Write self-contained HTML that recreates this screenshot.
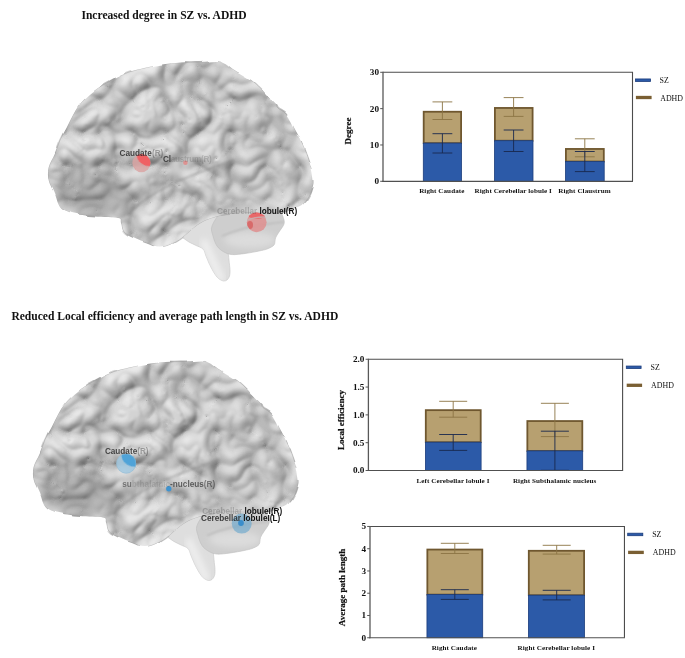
<!DOCTYPE html>
<html><head><meta charset="utf-8"><title>Figure</title>
<style>
html,body{margin:0;padding:0;background:#fff}
svg{display:block}
text{font-family:"Liberation Serif",serif;fill:#111}
.tt{font-weight:bold;font-size:11.55px}
.tk{font-weight:bold}
.yl{font-weight:bold;font-size:9px;stroke:#111;stroke-width:0.2px}
.ct{font-weight:bold;font-size:7.1px;letter-spacing:0.07px}
.lg{font-size:7.9px}
.bl{font-family:"Liberation Sans",sans-serif;font-weight:bold;font-size:8.2px;fill:#222}
</style></head><body>
<svg width="685" height="658" viewBox="0 0 685 658">
<defs>
<filter id="tex" x="0" y="0" width="100%" height="100%" color-interpolation-filters="sRGB"><feTurbulence type="turbulence" baseFrequency="0.03" numOctaves="2" seed="4" result="nl1"/>
<feColorMatrix in="nl1" type="matrix" values="1 0 0 0 0  1 0 0 0 0  1 0 0 0 0  0 0 0 0 1" result="gl1"/>
<feComponentTransfer in="gl1" result="l1"><feFuncR type="table" tableValues="0.80 0.89 0.94 0.97 0.98 0.99 1 1"/><feFuncG type="table" tableValues="0.80 0.89 0.94 0.97 0.98 0.99 1 1"/><feFuncB type="table" tableValues="0.80 0.89 0.94 0.97 0.98 0.99 1 1"/></feComponentTransfer><feTurbulence type="turbulence" baseFrequency="0.03" numOctaves="2" seed="4" result="tn"/>
<feColorMatrix in="tn" type="matrix" values="0 0 0 0 0  0 0 0 0 0  0 0 0 0 0  1.6 0 0 0 0" result="ta"/>
<feGaussianBlur in="ta" stdDeviation="0.8" result="tb"/>
<feDiffuseLighting in="tb" surfaceScale="2.8" diffuseConstant="1" lighting-color="#eeeeee" result="tl"><feDistantLight azimuth="240" elevation="64"/></feDiffuseLighting><feBlend in="l1" in2="tl" mode="multiply" result="m"/><feGaussianBlur in="m" stdDeviation="0.4"/></filter>
<filter id="b3" x="-20%" y="-20%" width="140%" height="140%"><feGaussianBlur stdDeviation="3"/></filter>
<filter id="b8" x="-50%" y="-50%" width="200%" height="200%"><feGaussianBlur stdDeviation="8"/></filter>
<filter id="b05" x="-20%" y="-20%" width="140%" height="140%"><feGaussianBlur stdDeviation="0.6"/></filter>
<filter id="b1" x="-20%" y="-20%" width="140%" height="140%"><feGaussianBlur stdDeviation="1.2"/></filter>
<mask id="mcer" maskUnits="userSpaceOnUse" x="30" y="40" width="310" height="260"><path d="M48.6 180.0C47.8 175.9 47.6 171.7 48.6 167.4C49.6 163.1 52.9 158.6 54.8 154.0C56.7 149.4 58.0 144.5 60.0 140.0C62.0 135.5 64.8 131.2 67.0 127.0C69.2 122.8 70.9 118.8 73.0 115.0C75.1 111.2 76.9 107.8 79.6 104.5C82.3 101.2 85.7 97.9 89.0 95.0C92.3 92.1 95.3 89.7 99.5 87.0C103.7 84.3 109.1 81.5 114.0 79.0C118.9 76.5 124.0 73.8 129.0 72.0C134.0 70.2 139.0 69.2 144.0 68.0C149.0 66.8 153.0 65.9 159.0 65.0C165.0 64.1 173.2 63.0 180.0 62.5C186.8 62.0 193.8 62.2 200.0 62.0C206.2 61.8 212.7 60.7 217.0 61.0C221.3 61.3 223.1 62.5 226.0 64.0C228.9 65.5 229.8 67.0 234.5 70.0C239.2 73.0 248.2 77.5 254.0 82.0C259.8 86.5 265.3 93.3 269.0 97.0C272.7 100.7 274.5 102.2 276.0 104.0C277.5 105.8 276.2 106.2 278.0 108.0C279.8 109.8 283.5 110.5 286.6 114.5C289.7 118.5 293.4 126.2 296.5 132.0C299.6 137.8 302.6 143.2 305.0 149.0C307.4 154.8 309.6 161.3 311.0 166.5C312.4 171.7 313.1 176.6 313.4 180.0C313.7 183.4 313.4 184.2 312.7 187.0C312.0 189.8 310.9 193.8 309.0 197.0C307.1 200.2 304.4 203.8 301.5 206.0C298.6 208.2 295.4 208.7 291.6 210.0C287.9 211.3 283.9 213.1 279.0 213.6C274.1 214.1 267.0 213.2 262.0 213.0C257.0 212.8 253.3 212.4 249.0 212.5C244.7 212.6 240.2 213.1 236.0 213.5C231.8 213.9 228.8 213.9 224.0 215.0C219.2 216.1 211.8 218.0 207.0 220.0C202.2 222.0 198.8 224.2 195.0 227.0C191.2 229.8 187.5 233.8 184.0 236.5C180.5 239.2 178.0 241.2 174.0 243.0C170.0 244.8 164.2 247.4 160.0 247.6C155.8 247.8 153.3 245.6 149.0 244.0C144.7 242.4 138.2 240.0 134.0 238.0C129.8 236.0 126.2 234.7 124.0 232.0C121.8 229.3 122.0 224.3 121.0 222.0C120.0 219.7 122.4 218.9 118.0 218.0C113.6 217.1 102.2 217.4 94.5 216.6C86.8 215.8 77.8 214.6 72.0 213.0C66.2 211.4 62.9 210.5 59.8 207.0C56.7 203.5 55.5 196.5 53.6 192.0C51.7 187.5 49.4 184.1 48.6 180.0Z" fill="#fff" filter="url(#b07)"/></mask>
<filter id="b07" x="-5%" y="-5%" width="110%" height="110%"><feTurbulence type="fractalNoise" baseFrequency="0.06" numOctaves="1" seed="5" result="dn"/><feDisplacementMap in="SourceGraphic" in2="dn" scale="5" xChannelSelector="R" yChannelSelector="G" result="dd"/><feGaussianBlur in="dd" stdDeviation="0.5"/></filter>
<clipPath id="ccbl"><path d="M212.0 226.0C213.5 222.0 217.3 215.3 222.0 212.0C226.7 208.7 233.3 207.3 240.0 206.0C246.7 204.7 255.7 203.5 262.0 204.0C268.3 204.5 274.5 206.8 278.0 209.0C281.5 211.2 282.0 214.5 283.0 217.0C284.0 219.5 284.7 221.5 284.0 224.0C283.3 226.5 280.4 229.7 279.0 232.0C277.6 234.3 276.3 235.8 275.5 238.0C274.7 240.2 275.4 243.2 274.0 245.0C272.6 246.8 269.5 248.0 267.0 249.0C264.5 250.0 262.7 250.2 259.0 251.0C255.3 251.8 249.5 252.9 245.0 253.5C240.5 254.1 235.5 254.8 232.0 254.6C228.5 254.3 226.5 253.4 224.0 252.0C221.5 250.6 218.8 248.7 217.0 246.0C215.2 243.3 213.8 239.3 213.0 236.0C212.2 232.7 210.5 230.0 212.0 226.0Z"/></clipPath>
<clipPath id="cstm"><path d="M176.0 230.0C177.0 226.0 185.5 218.7 192.0 216.0C198.5 213.3 209.0 212.0 215.0 214.0C221.0 216.0 225.8 222.3 228.0 228.0C230.2 233.7 227.8 242.7 228.0 248.0C228.2 253.3 228.7 256.3 229.0 260.0C229.3 263.7 229.9 267.3 230.0 270.0C230.1 272.7 230.0 274.3 229.5 276.0C229.0 277.7 228.0 279.2 227.0 280.0C226.0 280.8 224.7 281.1 223.5 281.0C222.3 280.9 221.1 280.2 220.0 279.5C218.9 278.8 218.2 278.4 217.0 277.0C215.8 275.6 214.2 273.1 213.0 271.0C211.8 268.9 210.8 267.0 209.6 264.5C208.4 262.0 207.1 258.6 206.0 256.0C204.9 253.4 204.8 250.8 203.0 249.0C201.2 247.2 197.8 246.5 195.0 245.0C192.2 243.5 189.2 242.5 186.0 240.0C182.8 237.5 175.0 234.0 176.0 230.0Z"/></clipPath>
<linearGradient id="gstm" x1="0" y1="0" x2="1" y2="0"><stop offset="0" stop-color="#d2d2d2"/><stop offset="0.45" stop-color="#ececec"/><stop offset="1" stop-color="#d0d0d0"/></linearGradient>
<radialGradient id="gred" cx="0.6" cy="0.3" r="0.75"><stop offset="0" stop-color="#f05a5e"/><stop offset="0.45" stop-color="#e77378"/><stop offset="1" stop-color="#d99a9c"/></radialGradient>
<radialGradient id="gblu" cx="0.6" cy="0.3" r="0.75"><stop offset="0" stop-color="#4a9ed6"/><stop offset="0.45" stop-color="#6aaed8"/><stop offset="1" stop-color="#9cc4dc"/></radialGradient>
<g id="brain">
<path d="M176.0 230.0C177.0 226.0 185.5 218.7 192.0 216.0C198.5 213.3 209.0 212.0 215.0 214.0C221.0 216.0 225.8 222.3 228.0 228.0C230.2 233.7 227.8 242.7 228.0 248.0C228.2 253.3 228.7 256.3 229.0 260.0C229.3 263.7 229.9 267.3 230.0 270.0C230.1 272.7 230.0 274.3 229.5 276.0C229.0 277.7 228.0 279.2 227.0 280.0C226.0 280.8 224.7 281.1 223.5 281.0C222.3 280.9 221.1 280.2 220.0 279.5C218.9 278.8 218.2 278.4 217.0 277.0C215.8 275.6 214.2 273.1 213.0 271.0C211.8 268.9 210.8 267.0 209.6 264.5C208.4 262.0 207.1 258.6 206.0 256.0C204.9 253.4 204.8 250.8 203.0 249.0C201.2 247.2 197.8 246.5 195.0 245.0C192.2 243.5 189.2 242.5 186.0 240.0C182.8 237.5 175.0 234.0 176.0 230.0Z" fill="#dedede" stroke="#c6c6c6" stroke-width="0.6"/>
<g clip-path="url(#cstm)"><path d="M203 240L222 281" stroke="#f0f0f0" stroke-width="7" filter="url(#b3)" fill="none"/></g>
<path d="M212.0 226.0C213.5 222.0 217.3 215.3 222.0 212.0C226.7 208.7 233.3 207.3 240.0 206.0C246.7 204.7 255.7 203.5 262.0 204.0C268.3 204.5 274.5 206.8 278.0 209.0C281.5 211.2 282.0 214.5 283.0 217.0C284.0 219.5 284.7 221.5 284.0 224.0C283.3 226.5 280.4 229.7 279.0 232.0C277.6 234.3 276.3 235.8 275.5 238.0C274.7 240.2 275.4 243.2 274.0 245.0C272.6 246.8 269.5 248.0 267.0 249.0C264.5 250.0 262.7 250.2 259.0 251.0C255.3 251.8 249.5 252.9 245.0 253.5C240.5 254.1 235.5 254.8 232.0 254.6C228.5 254.3 226.5 253.4 224.0 252.0C221.5 250.6 218.8 248.7 217.0 246.0C215.2 243.3 213.8 239.3 213.0 236.0C212.2 232.7 210.5 230.0 212.0 226.0Z" fill="#cecece" stroke="#bdbdbd" stroke-width="0.6"/>
<g clip-path="url(#ccbl)"><ellipse cx="250" cy="240" rx="26" ry="8" fill="#dcdcdc" filter="url(#b3)"/><path d="M222 236C240 228 262 224 284 222" stroke="#b4b4b4" stroke-width="1.2" fill="none" filter="url(#b1)"/></g>
<g mask="url(#mcer)">
<rect x="40" y="50" width="290" height="210" filter="url(#tex)"/>
<ellipse cx="90" cy="196" rx="46" ry="22" fill="#707070" opacity="0.36" filter="url(#b8)"/>
<ellipse cx="266" cy="191" rx="44" ry="11" fill="#fff" opacity="0.3" filter="url(#b8)" transform="rotate(-8 266 191)"/>
<ellipse cx="205" cy="228" rx="22" ry="10" fill="#fff" opacity="0.3" filter="url(#b8)" transform="rotate(-30 205 228)"/>
<ellipse cx="265" cy="175" rx="40" ry="30" fill="#808080" opacity="0.10" filter="url(#b8)"/>
<path d="M128 215C150 190 190 175 235 160" stroke="#777" stroke-width="2.2" fill="none" opacity="0.35" filter="url(#b1)"/>
<path d="M48.6 180.0C47.8 175.9 47.6 171.7 48.6 167.4C49.6 163.1 52.9 158.6 54.8 154.0C56.7 149.4 58.0 144.5 60.0 140.0C62.0 135.5 64.8 131.2 67.0 127.0C69.2 122.8 70.9 118.8 73.0 115.0C75.1 111.2 76.9 107.8 79.6 104.5C82.3 101.2 85.7 97.9 89.0 95.0C92.3 92.1 95.3 89.7 99.5 87.0C103.7 84.3 109.1 81.5 114.0 79.0C118.9 76.5 124.0 73.8 129.0 72.0C134.0 70.2 139.0 69.2 144.0 68.0C149.0 66.8 153.0 65.9 159.0 65.0C165.0 64.1 173.2 63.0 180.0 62.5C186.8 62.0 193.8 62.2 200.0 62.0C206.2 61.8 212.7 60.7 217.0 61.0C221.3 61.3 223.1 62.5 226.0 64.0C228.9 65.5 229.8 67.0 234.5 70.0C239.2 73.0 248.2 77.5 254.0 82.0C259.8 86.5 265.3 93.3 269.0 97.0C272.7 100.7 274.5 102.2 276.0 104.0C277.5 105.8 276.2 106.2 278.0 108.0C279.8 109.8 283.5 110.5 286.6 114.5C289.7 118.5 293.4 126.2 296.5 132.0C299.6 137.8 302.6 143.2 305.0 149.0C307.4 154.8 309.6 161.3 311.0 166.5C312.4 171.7 313.1 176.6 313.4 180.0C313.7 183.4 313.4 184.2 312.7 187.0C312.0 189.8 310.9 193.8 309.0 197.0C307.1 200.2 304.4 203.8 301.5 206.0C298.6 208.2 295.4 208.7 291.6 210.0C287.9 211.3 283.9 213.1 279.0 213.6C274.1 214.1 267.0 213.2 262.0 213.0C257.0 212.8 253.3 212.4 249.0 212.5C244.7 212.6 240.2 213.1 236.0 213.5C231.8 213.9 228.8 213.9 224.0 215.0C219.2 216.1 211.8 218.0 207.0 220.0C202.2 222.0 198.8 224.2 195.0 227.0C191.2 229.8 187.5 233.8 184.0 236.5C180.5 239.2 178.0 241.2 174.0 243.0C170.0 244.8 164.2 247.4 160.0 247.6C155.8 247.8 153.3 245.6 149.0 244.0C144.7 242.4 138.2 240.0 134.0 238.0C129.8 236.0 126.2 234.7 124.0 232.0C121.8 229.3 122.0 224.3 121.0 222.0C120.0 219.7 122.4 218.9 118.0 218.0C113.6 217.1 102.2 217.4 94.5 216.6C86.8 215.8 77.8 214.6 72.0 213.0C66.2 211.4 62.9 210.5 59.8 207.0C56.7 203.5 55.5 196.5 53.6 192.0C51.7 187.5 49.4 184.1 48.6 180.0Z" fill="none" stroke="#fff" stroke-width="9" opacity="0.24" filter="url(#b3)"/>
<path d="M48.6 180.0C47.8 175.9 47.6 171.7 48.6 167.4C49.6 163.1 52.9 158.6 54.8 154.0C56.7 149.4 58.0 144.5 60.0 140.0C62.0 135.5 64.8 131.2 67.0 127.0C69.2 122.8 70.9 118.8 73.0 115.0C75.1 111.2 76.9 107.8 79.6 104.5C82.3 101.2 85.7 97.9 89.0 95.0C92.3 92.1 95.3 89.7 99.5 87.0C103.7 84.3 109.1 81.5 114.0 79.0C118.9 76.5 124.0 73.8 129.0 72.0C134.0 70.2 139.0 69.2 144.0 68.0C149.0 66.8 153.0 65.9 159.0 65.0C165.0 64.1 173.2 63.0 180.0 62.5C186.8 62.0 193.8 62.2 200.0 62.0C206.2 61.8 212.7 60.7 217.0 61.0C221.3 61.3 223.1 62.5 226.0 64.0C228.9 65.5 229.8 67.0 234.5 70.0C239.2 73.0 248.2 77.5 254.0 82.0C259.8 86.5 265.3 93.3 269.0 97.0C272.7 100.7 274.5 102.2 276.0 104.0C277.5 105.8 276.2 106.2 278.0 108.0C279.8 109.8 283.5 110.5 286.6 114.5C289.7 118.5 293.4 126.2 296.5 132.0C299.6 137.8 302.6 143.2 305.0 149.0C307.4 154.8 309.6 161.3 311.0 166.5C312.4 171.7 313.1 176.6 313.4 180.0C313.7 183.4 313.4 184.2 312.7 187.0C312.0 189.8 310.9 193.8 309.0 197.0C307.1 200.2 304.4 203.8 301.5 206.0C298.6 208.2 295.4 208.7 291.6 210.0C287.9 211.3 283.9 213.1 279.0 213.6C274.1 214.1 267.0 213.2 262.0 213.0C257.0 212.8 253.3 212.4 249.0 212.5C244.7 212.6 240.2 213.1 236.0 213.5C231.8 213.9 228.8 213.9 224.0 215.0C219.2 216.1 211.8 218.0 207.0 220.0C202.2 222.0 198.8 224.2 195.0 227.0C191.2 229.8 187.5 233.8 184.0 236.5C180.5 239.2 178.0 241.2 174.0 243.0C170.0 244.8 164.2 247.4 160.0 247.6C155.8 247.8 153.3 245.6 149.0 244.0C144.7 242.4 138.2 240.0 134.0 238.0C129.8 236.0 126.2 234.7 124.0 232.0C121.8 229.3 122.0 224.3 121.0 222.0C120.0 219.7 122.4 218.9 118.0 218.0C113.6 217.1 102.2 217.4 94.5 216.6C86.8 215.8 77.8 214.6 72.0 213.0C66.2 211.4 62.9 210.5 59.8 207.0C56.7 203.5 55.5 196.5 53.6 192.0C51.7 187.5 49.4 184.1 48.6 180.0Z" fill="none" stroke="#999" stroke-width="1" opacity="0.5"/>
</g>
</g>
</defs>
<rect width="685" height="658" fill="#fff"/>
<text x="164" y="19" text-anchor="middle" class="tt">Increased degree in SZ vs. ADHD</text>
<text x="174.8" y="320.4" text-anchor="middle" class="tt">Reduced Local efficiency and average path length in SZ vs. ADHD</text>
<use href="#brain"/>
<g id="nodes1">
<clipPath id="k1"><circle cx="141.4" cy="163.1" r="9.1"/></clipPath>
<clipPath id="k2"><circle cx="256.7" cy="222.3" r="9.9"/></clipPath>
<circle cx="141.4" cy="163.1" r="9.1" fill="#dba3a2" opacity="0.82"/>
<g clip-path="url(#k1)"><ellipse cx="146.5" cy="157.6" rx="10.5" ry="7.6" transform="rotate(32 146.5 157.6)" fill="#ef6064" filter="url(#b05)"/></g>
<circle cx="185.4" cy="162.8" r="2.3" fill="#e08a88" opacity="0.85"/>
<circle cx="256.7" cy="222.3" r="9.9" fill="#df8f8f" opacity="0.85"/>
<g clip-path="url(#k2)"><ellipse cx="257" cy="214" rx="10" ry="5" fill="#e9686b" filter="url(#b05)"/><ellipse cx="250" cy="225" rx="3" ry="4" fill="#d86a6a" filter="url(#b05)"/>
<path d="M246 220.5C252 218 260 216.6 267 217" stroke="#c8b2b2" stroke-width="1.5" fill="none" opacity="0.85"/></g>
<text x="119.6" y="155.5" class="bl"><tspan fill-opacity="0.8">Caudate</tspan><tspan fill-opacity="0.35">(R)</tspan></text>
<text x="163" y="162.1" class="bl" letter-spacing="-0.28"><tspan fill-opacity="0.78">Cl</tspan><tspan fill-opacity="0.17">austrum(R)</tspan></text>
<text x="217.1" y="214.4" class="bl"><tspan fill-opacity="0.22">Cerebellar </tspan><tspan fill="#111">lobuleI(R)</tspan></text>
</g>
<use href="#brain" transform="translate(-15 299.5)"/>
<g id="nodes2">
<clipPath id="k3"><circle cx="126.2" cy="463.6" r="9.9"/></clipPath>
<circle cx="126.2" cy="463.6" r="9.9" fill="#a3c9e0" opacity="0.85"/>
<g clip-path="url(#k3)"><ellipse cx="131.3" cy="458.1" rx="10.5" ry="7.6" transform="rotate(32 131.3 458.1)" fill="#4fa3d8" filter="url(#b05)"/></g>
<circle cx="126.2" cy="463.6" r="9.6" fill="none" stroke="#8fb6cf" stroke-width="0.6" opacity="0.7"/>
<circle cx="168.8" cy="488.7" r="2.7" fill="#3f93cf"/>
<circle cx="241.7" cy="523.6" r="10" fill="#6ea8cd" opacity="0.66"/>
<circle cx="241" cy="523" r="2.9" fill="#3a8ecb"/>
<text x="104.9" y="454.1" class="bl"><tspan fill-opacity="0.8">Caudate</tspan><tspan fill-opacity="0.35">(R)</tspan></text>
<text x="122.3" y="487.2" class="bl"><tspan fill-opacity="0.5">su</tspan><tspan fill-opacity="0.12">bthalamic</tspan><tspan fill-opacity="0.66">-nucleus</tspan><tspan fill-opacity="0.5">(R)</tspan></text>
<text x="202.2" y="514.1" class="bl"><tspan fill-opacity="0.22">Cerebellar </tspan><tspan fill="#111">lobuleI(R)</tspan></text>
<text x="201" y="521.2" class="bl"><tspan fill-opacity="0.85">Cerebellar </tspan><tspan fill="#111">lobuleI(L)</tspan></text>
</g>
<rect x="383.0" y="72.3" width="249.50" height="109.10" fill="#fff"/>
<path d="M380.20 72.3H383.0" stroke="#555" stroke-width="1"/>
<text x="379.00" y="75.20" text-anchor="end" class="tk" font-size="9.2">30</text>
<path d="M380.20 108.63H383.0" stroke="#555" stroke-width="1"/>
<text x="379.00" y="111.53" text-anchor="end" class="tk" font-size="9.2">20</text>
<path d="M380.20 144.97H383.0" stroke="#555" stroke-width="1"/>
<text x="379.00" y="147.87" text-anchor="end" class="tk" font-size="9.2">10</text>
<path d="M380.20 181.3H383.0" stroke="#555" stroke-width="1"/>
<text x="379.00" y="184.20" text-anchor="end" class="tk" font-size="9.2">0</text>
<text transform="translate(350.8 131) rotate(-90)" text-anchor="middle" class="yl">Degree</text>
<rect x="423.70" y="111.75" width="37.40" height="31.35" fill="#b7a070" stroke="#6f572f" stroke-width="1.8"/>
<rect x="423.30" y="143.10" width="38.20" height="38.30" fill="#2c5aa8" stroke="#1c3d7c" stroke-width="0.8"/>
<path d="M442.4 101.9V119.5M432.5 101.9h19.8M432.5 119.5h19.8" stroke="#8b7444" stroke-width="0.9" fill="none"/>
<path d="M442.4 133.7V153.0M432.5 133.7h19.8M432.5 153.0h19.8" stroke="#18284e" stroke-width="0.9" fill="none"/>
<rect x="494.90" y="107.95" width="37.70" height="32.75" fill="#b7a070" stroke="#6f572f" stroke-width="1.8"/>
<rect x="494.50" y="140.70" width="38.50" height="40.70" fill="#2c5aa8" stroke="#1c3d7c" stroke-width="0.8"/>
<path d="M513.6 97.6V116.4M503.70000000000005 97.6h19.8M503.70000000000005 116.4h19.8" stroke="#8b7444" stroke-width="0.9" fill="none"/>
<path d="M513.6 130.0V151.5M503.70000000000005 130.0h19.8M503.70000000000005 151.5h19.8" stroke="#18284e" stroke-width="0.9" fill="none"/>
<rect x="565.90" y="148.95" width="37.90" height="12.55" fill="#b7a070" stroke="#6f572f" stroke-width="1.8"/>
<rect x="565.50" y="161.50" width="38.70" height="19.90" fill="#2c5aa8" stroke="#1c3d7c" stroke-width="0.8"/>
<path d="M584.8 138.8V156.8M574.9 138.8h19.8M574.9 156.8h19.8" stroke="#8b7444" stroke-width="0.9" fill="none"/>
<path d="M584.8 151.5V171.6M574.9 151.5h19.8M574.9 171.6h19.8" stroke="#18284e" stroke-width="0.9" fill="none"/>
<path d="M383.0 72.3H632.5V181.4" fill="none" stroke="#4c4c4c" stroke-width="1.1"/>
<path d="M383.0 71.8V181.9" fill="none" stroke="#585858" stroke-width="1.3"/>
<path d="M382.35 181.4H633.0" fill="none" stroke="#505050" stroke-width="1.2"/>
<text x="441.8" y="192.7" text-anchor="middle" class="ct">Right Caudate</text>
<text x="513.2" y="192.7" text-anchor="middle" class="ct">Right Cerebellar lobule I</text>
<text x="584.5" y="192.7" text-anchor="middle" class="ct">Right Claustrum</text>
<rect x="635.5" y="78.95" width="15.10" height="2.5" fill="#2c5aa8" stroke="#1c3d7c" stroke-width="0.8"/>
<rect x="635.9" y="95.85" width="15.70" height="3.3" fill="#7a5f33"/>
<text x="659.6" y="83.10" class="lg">SZ</text>
<text x="660.2" y="100.50" class="lg">ADHD</text>
<rect x="368.4" y="359.25" width="254.20" height="111.25" fill="#fff"/>
<path d="M365.60 359.25H368.4" stroke="#555" stroke-width="1"/>
<text x="364.40" y="362.15" text-anchor="end" class="tk" font-size="9.2">2.0</text>
<path d="M365.60 387.06H368.4" stroke="#555" stroke-width="1"/>
<text x="364.40" y="389.96" text-anchor="end" class="tk" font-size="9.2">1.5</text>
<path d="M365.60 414.88H368.4" stroke="#555" stroke-width="1"/>
<text x="364.40" y="417.78" text-anchor="end" class="tk" font-size="9.2">1.0</text>
<path d="M365.60 442.69H368.4" stroke="#555" stroke-width="1"/>
<text x="364.40" y="445.59" text-anchor="end" class="tk" font-size="9.2">0.5</text>
<path d="M365.60 470.5H368.4" stroke="#555" stroke-width="1"/>
<text x="364.40" y="473.40" text-anchor="end" class="tk" font-size="9.2">0.0</text>
<text transform="translate(343.8 420) rotate(-90)" text-anchor="middle" class="yl">Local efficiency</text>
<rect x="425.80" y="410.15" width="54.90" height="32.05" fill="#b7a070" stroke="#6f572f" stroke-width="1.8"/>
<rect x="425.40" y="442.20" width="55.70" height="28.30" fill="#2c5aa8" stroke="#1c3d7c" stroke-width="0.8"/>
<path d="M453.2 401.3V417.2M439.2 401.3h28M439.2 417.2h28" stroke="#8b7444" stroke-width="0.9" fill="none"/>
<path d="M453.2 434.5V450.4M439.2 434.5h28M439.2 450.4h28" stroke="#18284e" stroke-width="0.9" fill="none"/>
<rect x="527.35" y="421.05" width="54.95" height="29.85" fill="#b7a070" stroke="#6f572f" stroke-width="1.8"/>
<rect x="526.95" y="450.90" width="55.75" height="19.60" fill="#2c5aa8" stroke="#1c3d7c" stroke-width="0.8"/>
<path d="M554.9 403.3V436.6M540.9 403.3h28M540.9 436.6h28" stroke="#8b7444" stroke-width="0.9" fill="none"/>
<path d="M554.9 431.2V470.3M540.9 431.2h28M540.9 470.3h28" stroke="#18284e" stroke-width="0.9" fill="none"/>
<path d="M368.4 359.25H622.6V470.5" fill="none" stroke="#4c4c4c" stroke-width="1.1"/>
<path d="M368.4 358.75V471.0" fill="none" stroke="#585858" stroke-width="1.3"/>
<path d="M367.75 470.5H623.1" fill="none" stroke="#505050" stroke-width="1.2"/>
<text x="453" y="482.7" text-anchor="middle" class="ct">Left Cerebellar lobule I</text>
<text x="554.6" y="482.7" text-anchor="middle" class="ct">Right Subthalamic nucleus</text>
<rect x="626.3" y="366.05" width="14.80" height="2.5" fill="#2c5aa8" stroke="#1c3d7c" stroke-width="0.8"/>
<rect x="626.6999999999999" y="383.65000000000003" width="15.40" height="3.3" fill="#7a5f33"/>
<text x="650.5" y="370.20" class="lg">SZ</text>
<text x="651.1" y="388.30" class="lg">ADHD</text>
<rect x="370.0" y="526.46" width="254.45" height="111.29" fill="#fff"/>
<path d="M367.20 526.46H370.0" stroke="#555" stroke-width="1"/>
<text x="366.00" y="529.36" text-anchor="end" class="tk" font-size="9.2">5</text>
<path d="M367.20 548.72H370.0" stroke="#555" stroke-width="1"/>
<text x="366.00" y="551.62" text-anchor="end" class="tk" font-size="9.2">4</text>
<path d="M367.20 570.98H370.0" stroke="#555" stroke-width="1"/>
<text x="366.00" y="573.88" text-anchor="end" class="tk" font-size="9.2">3</text>
<path d="M367.20 593.23H370.0" stroke="#555" stroke-width="1"/>
<text x="366.00" y="596.13" text-anchor="end" class="tk" font-size="9.2">2</text>
<path d="M367.20 615.49H370.0" stroke="#555" stroke-width="1"/>
<text x="366.00" y="618.39" text-anchor="end" class="tk" font-size="9.2">1</text>
<path d="M367.20 637.75H370.0" stroke="#555" stroke-width="1"/>
<text x="366.00" y="640.65" text-anchor="end" class="tk" font-size="9.2">0</text>
<text transform="translate(345 587.5) rotate(-90)" text-anchor="middle" class="yl">Average path length</text>
<rect x="427.35" y="549.55" width="54.95" height="45.05" fill="#b7a070" stroke="#6f572f" stroke-width="1.8"/>
<rect x="426.95" y="594.60" width="55.75" height="43.15" fill="#2c5aa8" stroke="#1c3d7c" stroke-width="0.8"/>
<path d="M454.8 543.3V553.5M440.8 543.3h28M440.8 553.5h28" stroke="#8b7444" stroke-width="0.9" fill="none"/>
<path d="M454.8 589.7V599.4M440.8 589.7h28M440.8 599.4h28" stroke="#18284e" stroke-width="0.9" fill="none"/>
<rect x="528.80" y="550.80" width="55.30" height="44.40" fill="#b7a070" stroke="#6f572f" stroke-width="1.8"/>
<rect x="528.40" y="595.20" width="56.10" height="42.55" fill="#2c5aa8" stroke="#1c3d7c" stroke-width="0.8"/>
<path d="M556.7 545.3V554.1M542.7 545.3h28M542.7 554.1h28" stroke="#8b7444" stroke-width="0.9" fill="none"/>
<path d="M556.7 590.3V599.9M542.7 590.3h28M542.7 599.9h28" stroke="#18284e" stroke-width="0.9" fill="none"/>
<path d="M370.0 526.46H624.45V637.75" fill="none" stroke="#4c4c4c" stroke-width="1.1"/>
<path d="M370.0 525.96V638.25" fill="none" stroke="#585858" stroke-width="1.3"/>
<path d="M369.35 637.75H624.95" fill="none" stroke="#505050" stroke-width="1.2"/>
<text x="454.3" y="650" text-anchor="middle" class="ct">Right Caudate</text>
<text x="556.3" y="650" text-anchor="middle" class="ct">Right Cerebellar lobule I</text>
<rect x="627.6999999999999" y="533.2" width="15.10" height="2.5" fill="#2c5aa8" stroke="#1c3d7c" stroke-width="0.8"/>
<rect x="628.0999999999999" y="550.75" width="15.70" height="3.3" fill="#7a5f33"/>
<text x="652.2" y="537.35" class="lg">SZ</text>
<text x="652.8000000000001" y="555.40" class="lg">ADHD</text>
</svg>
</body></html>
